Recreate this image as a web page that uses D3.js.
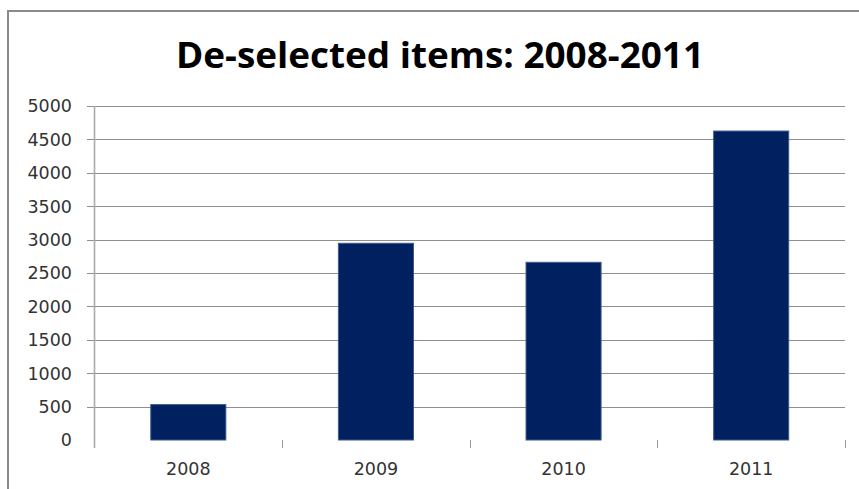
<!DOCTYPE html>
<html>
<head>
<meta charset="utf-8">
<script src="https://cdn.jsdelivr.net/npm/d3@7"></script>
<style>
  html, body { margin: 0; padding: 0; background: #fff; }
  svg { display: block; }
</style>
</head>
<body>
<script>
const categories = ["2008", "2009", "2010", "2011"];
const values = [530, 2945, 2660, 4625];
const yTicks = [0, 500, 1000, 1500, 2000, 2500, 3000, 3500, 4000, 4500, 5000];
const titleText = "De-selected items: 2008-2011";

(function () {
const W = 859, H = 489;
const svg = d3.select("body").append("svg").attr("width", W).attr("height", H);

// outer chart border
svg.append("rect")
  .attr("x", 8).attr("y", 11).attr("width", 880).attr("height", 500)
  .attr("fill", "none").attr("stroke", "#8a8a8a").attr("stroke-width", 2);

const pL = 94.5, pR = 845, pT = 106, pB = 440;

const x = d3.scaleBand().domain(categories).range([pL, pR])
  .paddingInner(0.6).paddingOuter(0.3);
const y = d3.scaleLinear().domain([0, 5000]).range([pB, pT]);

// gridlines (not at 0)
svg.append("g").selectAll("line").data(yTicks.filter(d => d > 0)).join("line")
  .attr("x1", 87).attr("x2", pR)
  .attr("y1", d => Math.round(y(d)) + 0.5).attr("y2", d => Math.round(y(d)) + 0.5)
  .attr("stroke", "#8f8f8f").attr("stroke-width", 1);

// y axis line
svg.append("line")
  .attr("x1", pL).attr("x2", pL).attr("y1", pT).attr("y2", pB + 8)
  .attr("stroke", "#ababab").attr("stroke-width", 1.6);

// y labels
svg.append("g").selectAll("text").data(yTicks).join("text")
  .attr("x", 72).attr("y", d => y(d))
  .attr("dy", "0.36em")
  .attr("text-anchor", "end")
  .attr("font-family", "DejaVu Sans, sans-serif")
  .attr("font-size", 17.5)
  .attr("fill", "#333")
  .text(d => d);

// category ticks at band boundaries
const boundaryPositions = d3.range(1, categories.length + 1).map(i => pL + (pR - pL) * i / categories.length);
svg.append("g").selectAll("line").data(boundaryPositions).join("line")
  .attr("x1", d => Math.round(d) + 0.5).attr("x2", d => Math.round(d) + 0.5)
  .attr("y1", pB).attr("y2", pB + 8)
  .attr("stroke", "#9a9a9a").attr("stroke-width", 1);

// bars
svg.append("g").selectAll("rect").data(values).join("rect")
  .attr("x", (d, i) => x(categories[i]))
  .attr("y", d => y(d))
  .attr("width", x.bandwidth())
  .attr("height", d => pB - y(d))
  .attr("fill", "#00205f")
  .attr("stroke", "#3d5a8c")
  .attr("stroke-width", 1);

// x labels
svg.append("g").selectAll("text").data(categories).join("text")
  .attr("x", d => x(d) + x.bandwidth() / 2)
  .attr("y", 475)
  .attr("text-anchor", "middle")
  .attr("font-family", "DejaVu Sans, sans-serif")
  .attr("font-size", 17.5)
  .attr("fill", "#333")
  .text(d => d);

// title
const t = svg.append("text")
  .attr("x", 440).attr("y", 67.5)
  .attr("text-anchor", "middle")
  .attr("font-family", "Open Sans, sans-serif")
  .attr("font-weight", "bold")
  .attr("font-size", 36)
  .attr("fill", "#000")
  .text(titleText);
const len = t.node().getComputedTextLength();
if (Math.abs(len - 528) > 2) {
  t.attr("textLength", 528).attr("lengthAdjust", "spacingAndGlyphs");
}
})();
</script>
</body>
</html>
